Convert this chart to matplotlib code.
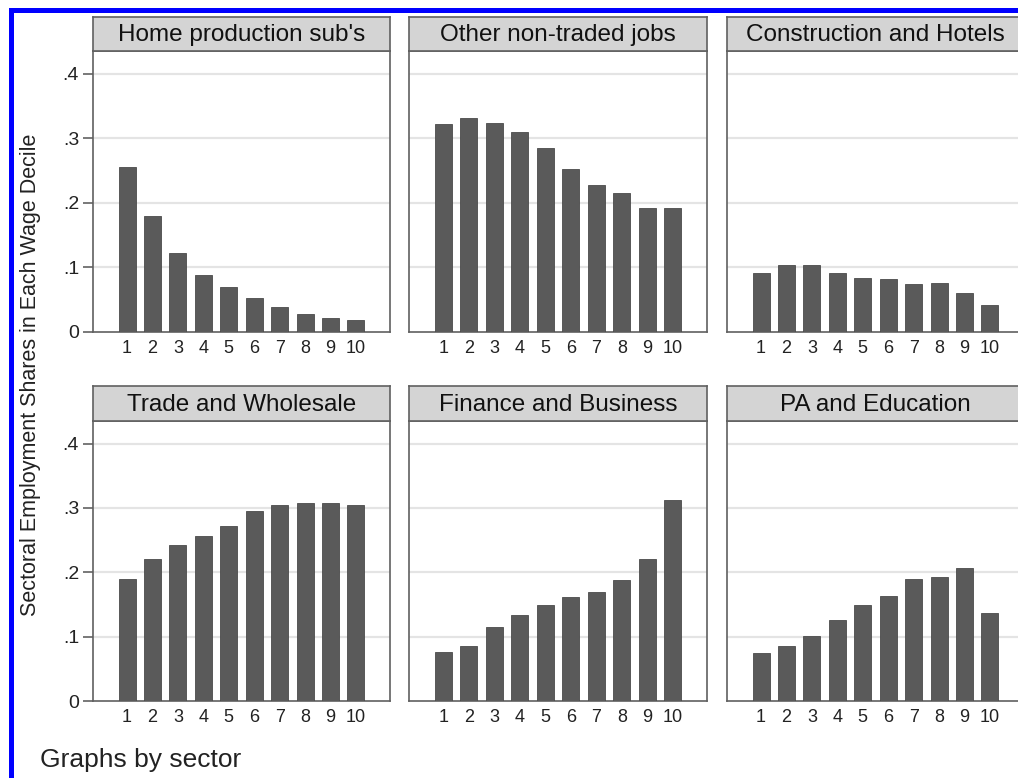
import numpy as np
import matplotlib
matplotlib.use('Agg')
import matplotlib.pyplot as plt
from matplotlib.patches import Rectangle

plt.rcParams['font.family'] = ['Liberation Sans', 'DejaVu Sans']

deciles = [1, 2, 3, 4, 5, 6, 7, 8, 9, 10]
sectors = ["Home production sub's", "Other non-traded jobs", "Construction and Hotels",
           "Trade and Wholesale", "Finance and Business", "PA and Education"]

home_prod = [0.255, 0.180, 0.123, 0.089, 0.070, 0.052, 0.039, 0.028, 0.021, 0.018]
other_nontraded = [0.322, 0.331, 0.324, 0.310, 0.285, 0.252, 0.227, 0.215, 0.192, 0.192]
construction = [0.092, 0.104, 0.103, 0.092, 0.084, 0.082, 0.074, 0.076, 0.060, 0.042]
trade = [0.190, 0.220, 0.243, 0.257, 0.272, 0.295, 0.305, 0.307, 0.307, 0.305]
finance = [0.076, 0.085, 0.115, 0.133, 0.149, 0.161, 0.169, 0.188, 0.220, 0.313]
pa_edu = [0.074, 0.085, 0.101, 0.126, 0.149, 0.163, 0.190, 0.192, 0.206, 0.136]

yticks = [0, 0.1, 0.2, 0.3, 0.4]
ytick_labels = ['0', '.1', '.2', '.3', '.4']

series = [home_prod, other_nontraded, construction, trade, finance, pa_edu]

W, H = 1018, 778
fig = plt.figure(figsize=(W / 100, H / 100), dpi=100)
fig.patch.set_facecolor('white')

# pixel layout of the panels (left, right) and rows (strip top, plot top, plot bottom)
cols = [(93, 390), (409, 707), (727, 1024)]
rows = [(17, 51, 332), (386, 421, 701)]

bar_color = '#5a5a5a'

for i, vals in enumerate(series):
    r, c = divmod(i, 3)
    x0, x1 = cols[c]
    st, pt, pb = rows[r]
    ax = fig.add_axes([x0 / W, 1 - pb / H, (x1 - x0) / W, (pb - pt) / H])
    ax.bar(deciles, vals, width=0.67, color=bar_color, edgecolor='#4a4a4a', linewidth=0.6, zorder=3)
    ax.set_xlim(-0.34, 11.34)
    ax.set_ylim(0, 0.435)
    ax.set_yticks(yticks)
    ax.set_xticks(deciles)
    ax.set_xticklabels([str(d) for d in deciles], fontsize=13, color='#222222')
    ax.tick_params(axis='x', length=0, pad=6)
    for y in yticks[1:]:
        ax.axhline(y, color='#e4e4e4', lw=1.6, zorder=1)
    if c == 0:
        ax.set_yticklabels(ytick_labels, fontsize=14, color='#222222')
        ax.tick_params(axis='y', length=7, width=1.1, color='#555555', pad=3)
    else:
        ax.tick_params(axis='y', length=0, labelleft=False)
    for s in ax.spines.values():
        s.set_color('#606060')
        s.set_linewidth(1.2)

    sax = fig.add_axes([x0 / W, 1 - pt / H, (x1 - x0) / W, (pt - st) / H])
    sax.set_facecolor('#d4d4d4')
    sax.set_xticks([])
    sax.set_yticks([])
    for s in sax.spines.values():
        s.set_color('#606060')
        s.set_linewidth(1.2)
    sax.text(0.5, 0.47, sectors[i], ha='center', va='center', fontsize=17.5, color='#111111',
             transform=sax.transAxes)

fig.text(31 / W, 1 - 375 / H, 'Sectoral Employment Shares in Each Wage Decile', rotation=90,
         ha='center', va='center', fontsize=15.5, color='#222222')
fig.text(40 / W, 1 - 760 / H, 'Graphs by sector', ha='left', va='center', fontsize=19,
         color='#222222')

# blue frame around the figure (cropped at right and bottom)
fig.add_artist(Rectangle((10.5 / W, -0.1), 1.2, 1 - 10 / H + 0.1, transform=fig.transFigure,
                         fill=False, edgecolor='#0000ff', linewidth=3.6))

fig.savefig('out.png', dpi=100)
